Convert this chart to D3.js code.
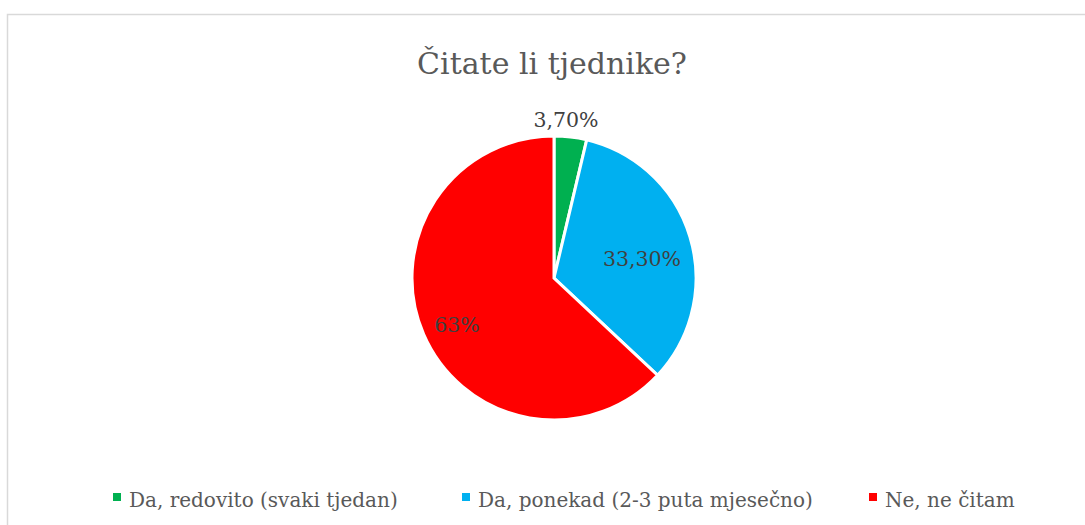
<!DOCTYPE html>
<html><head><meta charset="utf-8">
<script src="https://cdn.jsdelivr.net/npm/d3@7"></script>
<style>html,body{margin:0;padding:0;background:#fff;}svg{display:block;}</style>
</head><body>
<svg id="chart" width="1085" height="525"></svg>
<script>
const categories = ["Da, redovito (svaki tjedan)", "Da, ponekad (2-3 puta mjesečno)", "Ne, ne čitam"];
const values = [3.7, 33.3, 63];
const labels = ["3,70%", "33,30%", "63%"];
const colors = ["#00B050", "#00B0F0", "#FF0000"];

const svg = d3.select("#chart");
const font = "DejaVu Serif, serif";
svg.append("rect").attr("x",7.5).attr("y",14.5).attr("width",1090).attr("height",520)
  .attr("fill","#fff").attr("stroke","#d9d9d9").attr("stroke-width",1.5);

svg.append("text").attr("x",552).attr("y",74).attr("text-anchor","middle")
  .attr("font-family",font).attr("font-size",30).attr("fill","#595959").text("Čitate li tjednike?");

const cx=554, cy=278, r=142;
const pie = d3.pie().sort(null).value(d=>d);
const arcs = pie(values);
const arc = d3.arc().innerRadius(0).outerRadius(r);
const g = svg.append("g").attr("transform",`translate(${cx},${cy})`);
g.selectAll("path").data(arcs).join("path").attr("d",arc)
  .attr("fill",(d,i)=>colors[i]).attr("stroke","#fff").attr("stroke-width",3);

const labelPos = [[12,-151],[88,-12],[-97,54]];
g.selectAll("text.lbl").data(arcs).join("text").attr("class","lbl")
  .attr("x",(d,i)=>labelPos[i][0])
  .attr("y",(d,i)=>labelPos[i][1])
  .attr("text-anchor","middle").attr("font-family",font).attr("font-size",20.5)
  .attr("fill","#404040").text((d,i)=>labels[i]);

const legX = [113, 462, 869];
const lg = svg.append("g");
categories.forEach((c,i)=>{
  lg.append("rect").attr("x",legX[i]).attr("y",493).attr("width",8).attr("height",8).attr("fill",colors[i]);
  lg.append("text").attr("x",legX[i]+16).attr("y",507).attr("font-family",font).attr("font-size",20)
    .attr("fill","#595959").text(c);
});
</script>
</body></html>
